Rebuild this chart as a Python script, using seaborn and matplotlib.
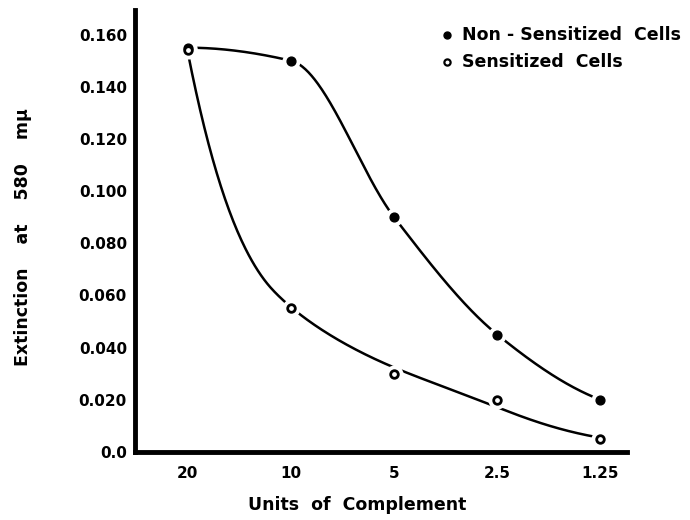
import numpy as np
import pandas as pd
import matplotlib
matplotlib.use("Agg")
import matplotlib.pyplot as plt
import seaborn as sns

# ---- data ----
units = ["20", "10", "5", "2.5", "1.25"]
non_sensitized = [0.155, 0.150, 0.090, 0.045, 0.020]
sensitized = [0.154, 0.055, 0.030, 0.020, 0.005]
y_ticks = [0.0, 0.020, 0.040, 0.060, 0.080, 0.100, 0.120, 0.140, 0.160]
y_tick_labels = ["0.0", "0.020", "0.040", "0.060", "0.080", "0.100", "0.120", "0.140", "0.160"]

sns.set_theme(style="white")
plt.rcParams['font.family'] = ['DejaVu Sans']
plt.rcParams['font.weight'] = 'bold'
plt.rcParams['text.color'] = 'black'
plt.rcParams['axes.labelcolor'] = 'black'

pos = np.arange(len(units), dtype=float)
xs = np.linspace(0, 4, 401)


def pchip(x, y, xs):
    x = np.asarray(x, float); y = np.asarray(y, float)
    h = np.diff(x); d = np.diff(y) / h
    n = len(x); m = np.zeros(n)
    for i in range(1, n - 1):
        if d[i - 1] * d[i] > 0:
            w1 = 2 * h[i] + h[i - 1]; w2 = h[i] + 2 * h[i - 1]
            m[i] = (w1 + w2) / (w1 / d[i - 1] + w2 / d[i])
    def endslope(h0, h1, d0, d1):
        s = ((2 * h0 + h1) * d0 - h0 * d1) / (h0 + h1)
        if np.sign(s) != np.sign(d0):
            s = 0.0
        elif np.sign(d0) != np.sign(d1) and abs(s) > abs(3 * d0):
            s = 3 * d0
        return s
    m[0] = endslope(h[0], h[1], d[0], d[1])
    m[-1] = endslope(h[-1], h[-2], d[-1], d[-2])
    out = np.empty_like(xs)
    for k, t in enumerate(xs):
        i = min(max(np.searchsorted(x, t) - 1, 0), n - 2)
        s = (t - x[i]) / h[i]
        h00 = 2 * s ** 3 - 3 * s ** 2 + 1; h10 = s ** 3 - 2 * s ** 2 + s
        h01 = -2 * s ** 3 + 3 * s ** 2; h11 = s ** 3 - s ** 2
        out[k] = h00 * y[i] + h10 * h[i] * m[i] + h01 * y[i + 1] + h11 * h[i] * m[i + 1]
    return out


def smoothing_curve(x, y, grid, lam):
    """Whittaker (smoothing-spline like) fit on a fine grid; lam may vary along x."""
    N = len(grid); hg = grid[1] - grid[0]
    W = np.zeros(N); z = np.zeros(N)
    for xi, yi in zip(x, y):
        j = int(round((xi - grid[0]) / hg))
        W[j] = 1.0; z[j] = yi
    D = np.diff(np.eye(N), 2, axis=0)
    lam_rows = np.broadcast_to(np.asarray(lam, float), (N,))[1:-1]
    A = np.diag(W) + D.T @ (D * (lam_rows / hg ** 3)[:, None])
    return np.linalg.solve(A, W * z)


curve_non = pchip(pos, non_sensitized, xs)
# light smoothing on the steep part, stronger smoothing on the tail (log scale)
lam_profile = 0.003 + (0.1 - 0.003) * np.clip((xs - 0.8) / 1.2, 0, 1)
curve_sen = np.exp(smoothing_curve(pos, np.log(sensitized), xs, lam_profile))

curves = pd.DataFrame({
    "x": np.concatenate([xs, xs]),
    "y": np.concatenate([curve_non, curve_sen]),
    "series": ["non"] * len(xs) + ["sen"] * len(xs),
})

fig = plt.figure(figsize=(6.9, 5.2), dpi=100)
ax = fig.add_axes([0.196, 0.131, 0.713, 0.85])

sns.lineplot(data=curves, x="x", y="y", units="series", estimator=None,
             color="black", linewidth=1.8, ax=ax, legend=False, zorder=2)
# white halos around the points (gaps in the hand-drawn curves)
ax.scatter(np.concatenate([pos, pos]), non_sensitized + sensitized, s=170,
           color="white", zorder=3, linewidths=0)
sns.scatterplot(x=pos, y=non_sensitized, color="black", s=40, edgecolor="black",
                linewidth=1, ax=ax, zorder=4)
sns.scatterplot(x=pos, y=sensitized, color="white", s=30, edgecolor="black",
                linewidth=2, ax=ax, zorder=4)

ax.set_xlim(-0.51, 4.26)
ax.set_ylim(0, 0.1695)
ax.set_xticks(pos)
ax.set_xticklabels(units)
ax.set_yticks(y_ticks)
ax.set_yticklabels(y_tick_labels)
for s in ["top", "right"]:
    ax.spines[s].set_visible(False)
for s in ["left", "bottom"]:
    ax.spines[s].set_linewidth(3.5)
    ax.spines[s].set_color("black")
ax.tick_params(axis="both", direction="in", length=6, width=1.5, colors="black",
               labelsize=11, pad=6)
ax.tick_params(axis="x", length=4, pad=10)
for lab in ax.get_xticklabels() + ax.get_yticklabels():
    lab.set_fontweight("bold")

ax.set_xlabel("Units  of  Complement", fontsize=12.5, fontweight="bold", color="black")
ax.xaxis.set_label_coords(0.451, -0.100)
ax.set_ylabel("Extinction    at    580    m\u03bc", fontsize=12.5, fontweight="bold", color="black")
ax.yaxis.set_label_coords(-0.21, 0.486)

# legend
ax.scatter([0.648], [0.933], transform=fig.transFigure, s=25, color="black", zorder=5, clip_on=False)
ax.scatter([0.648], [0.881], transform=fig.transFigure, s=20, color="white", edgecolor="black",
           linewidth=1.6, zorder=5, clip_on=False)
fig.text(0.670, 0.933, "Non - Sensitized  Cells", fontsize=12.5, fontweight="bold",
         va="center", color="black")
fig.text(0.670, 0.881, "Sensitized  Cells", fontsize=12.5, fontweight="bold",
         va="center", color="black")

fig.savefig("out.png", dpi=100)
